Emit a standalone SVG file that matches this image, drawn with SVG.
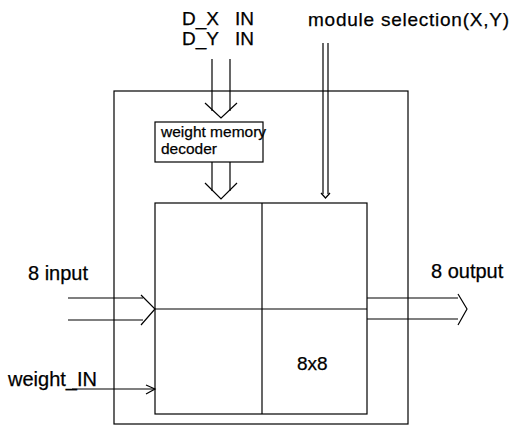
<svg xmlns="http://www.w3.org/2000/svg" width="512" height="426" viewBox="0 0 512 426">
<style>
.ln{fill:none;stroke:#000;stroke-width:1.2;stroke-linejoin:miter}
.t{font-family:"Liberation Sans",Arial,sans-serif;fill:#000;stroke:#000;stroke-width:0.25}
</style>
<rect width="512" height="426" fill="#fff"/>
<g id="module">
<rect class="ln" x="114" y="91" width="294" height="333"/>
</g>
<g id="decoder">
<rect class="ln" x="155" y="122" width="108" height="40"/>
<text class="t" x="161" y="137" font-size="15.5">weight memory</text>
<text class="t" x="161" y="154" font-size="15.5">decoder</text>
</g>
<g id="grid">
<rect class="ln" x="155" y="203" width="212" height="211"/>
<line class="ln" x1="155" y1="309" x2="367" y2="309"/>
<line class="ln" x1="262" y1="203" x2="262" y2="414"/>
<text class="t" x="297" y="370" font-size="19">8x8</text>
</g>
<g id="labels">
<text class="t" x="182" y="25" font-size="19">D_X</text>
<text class="t" x="235" y="25" font-size="19">IN</text>
<text class="t" x="182" y="45" font-size="19">D_Y</text>
<text class="t" x="235" y="45" font-size="19">IN</text>
<text class="t" x="308" y="26" font-size="19" textLength="201">module selection(X,Y)</text>
<text class="t" x="28" y="280" font-size="20">8 input</text>
<text class="t" x="431" y="278" font-size="20">8 output</text>
<text class="t" x="8" y="386" font-size="20">weight_IN</text>
</g>
<g id="connectors">
<line class="ln" x1="212" y1="59" x2="212" y2="111"/>
<line class="ln" x1="230" y1="59" x2="230" y2="111"/>
<polyline class="ln" points="205,103 221,118 237,103"/>
<line class="ln" x1="212" y1="162" x2="212" y2="191"/>
<line class="ln" x1="230" y1="162" x2="230" y2="191"/>
<polyline class="ln" points="205,183 221,199 237,183"/>
<line class="ln" x1="323" y1="43" x2="323" y2="194"/>
<line class="ln" x1="328" y1="43" x2="328" y2="194"/>
<polyline class="ln" points="321,193 325.5,198 330,193"/>
<line class="ln" x1="68" y1="298" x2="143" y2="298"/>
<line class="ln" x1="68" y1="320" x2="143" y2="320"/>
<polyline class="ln" points="141,295 155,309 141,325"/>
<line class="ln" x1="72" y1="389" x2="155" y2="389"/>
<polyline class="ln" points="146,385 155,389 146,394"/>
<line class="ln" x1="367" y1="298" x2="458" y2="298"/>
<line class="ln" x1="367" y1="319" x2="458" y2="319"/>
<polyline class="ln" points="458,294 467,309 458,325"/>
</g>
</svg>
